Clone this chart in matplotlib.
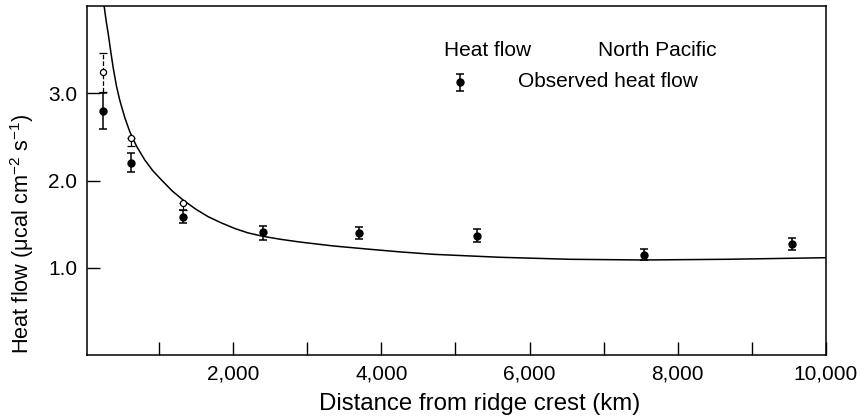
import matplotlib.pyplot as plt

plt.rcParams['font.family'] = ['Liberation Sans', 'DejaVu Sans']
plt.rcParams['mathtext.fontset'] = 'custom'
plt.rcParams['mathtext.rm'] = 'Liberation Sans'
plt.rcParams['mathtext.it'] = 'Liberation Sans:italic'

# observed heat flow, North Pacific (filled points)
obs_km = [250, 617, 1327, 2406, 3700, 5290, 7550, 9545]
obs_q = [2.80, 2.20, 1.585, 1.413, 1.395, 1.367, 1.146, 1.269]
obs_err_lo = [0.205, 0.105, 0.07, 0.10, 0.065, 0.07, 0.06, 0.066]
obs_err_hi = [0.205, 0.12, 0.077, 0.07, 0.072, 0.077, 0.072, 0.075]

# open points (near the ridge)
open_km = [250, 617, 1327]
open_q = [3.24, 2.49, 1.746]
open_err_lo = [0.22, 0.09, 0.085]
open_err_hi = [0.22, 0.0, 0.0]

# model curve
curve_km = [261, 290, 315, 350, 382, 428, 472, 540, 607, 700, 810, 920, 1035,
            1180, 1327, 1500, 1665, 1840, 2024, 2200, 2406, 2650, 2901, 3350,
            3802, 4250, 4701, 5600, 6545, 7535, 8660, 10000]
curve_q = [4.00, 3.82, 3.69, 3.48, 3.30, 3.08, 2.92, 2.72, 2.56, 2.39, 2.235,
           2.11, 2.006, 1.88, 1.776, 1.67, 1.585, 1.515, 1.45, 1.40, 1.36,
           1.325, 1.295, 1.25, 1.215, 1.182, 1.154, 1.12, 1.097, 1.089, 1.097,
           1.115]

x_ticks = [1000, 2000, 3000, 4000, 5000, 6000, 7000, 8000, 9000, 10000]
x_labels = ['', '2,000', '', '4,000', '', '6,000', '', '8,000', '', '10,000']
y_ticks = [1.0, 2.0, 3.0]
y_labels = ['1.0', '2.0', '3.0']

fig = plt.figure(figsize=(8.66, 4.2), dpi=100)
ax = fig.add_axes([87 / 866, 65 / 420, 739 / 866, 349 / 420])

ax.plot(curve_km, curve_q, color='black', lw=1.1, clip_on=True)

# open circles with their error bars
for i in range(len(open_km)):
    ls = '--' if i == 0 else '-'
    eb = ax.errorbar(open_km[i], open_q[i],
                     yerr=[[open_err_lo[i]], [open_err_hi[i]]],
                     fmt='o', ms=4.4, mfc='white', mec='black', mew=0.9,
                     ecolor='black', elinewidth=0.9, capsize=3.2, capthick=1.0,
                     zorder=3)
    eb[2][0].set_linestyle(ls)

ax.errorbar(obs_km, obs_q, yerr=[obs_err_lo, obs_err_hi], fmt='o', ms=5.0,
            color='black', elinewidth=1.1, capsize=3.2, capthick=1.1, zorder=4)

ax.set_xlim(30, 10000)
ax.set_ylim(0, 4.0)
ax.set_xticks(x_ticks)
ax.set_xticklabels(x_labels)
ax.set_yticks(y_ticks)
ax.set_yticklabels(y_labels)
ax.tick_params(direction='in', length=9.5, width=1.0, labelsize=15, pad=7)
for s in ax.spines.values():
    s.set_linewidth(1.1)

# legend, hand placed
ax.text(0.483, 0.872, 'Heat flow', transform=ax.transAxes, fontsize=15,
        va='center', ha='left')
ax.text(0.6915, 0.872, 'North Pacific', transform=ax.transAxes, fontsize=15,
        va='center', ha='left')
ax.errorbar([0.505], [0.781], yerr=[0.024], transform=ax.transAxes, fmt='o',
            ms=5.0, color='black', elinewidth=1.1, capsize=3.2, capthick=1.1)
ax.text(0.583, 0.785, 'Observed heat flow', transform=ax.transAxes,
        fontsize=15, va='center', ha='left')

fig.text(480 / 866, 1 - 404 / 420, 'Distance from ridge crest (km)',
         fontsize=17.3, ha='center', va='center')
fig.text(22 / 866, 1 - 234 / 420, 'Heat flow (μcal cm$^{-2}$ s$^{-1}$)',
         fontsize=15.7, ha='center', va='center', rotation=90,
         rotation_mode='anchor')

fig.savefig('out.png', dpi=100)
